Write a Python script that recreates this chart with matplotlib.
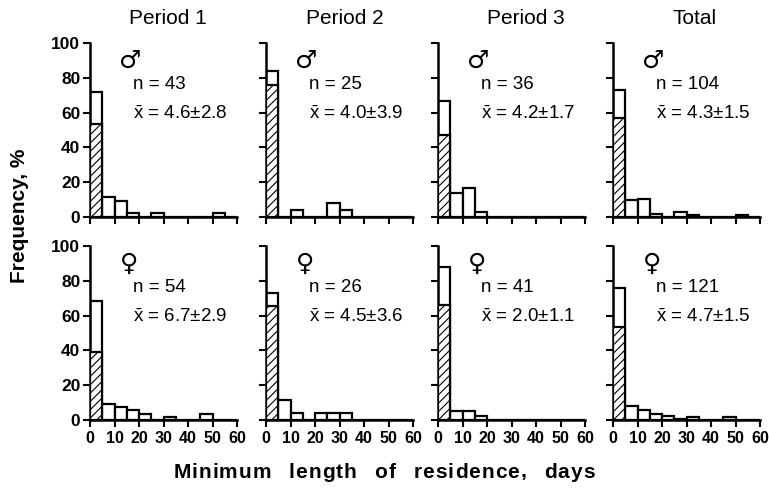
import matplotlib
matplotlib.use("Agg")
from matplotlib import pyplot as plt

plt.rcParams['font.family'] = ['Liberation Sans', 'DejaVu Sans']
plt.rcParams['mathtext.fontset'] = 'custom'
plt.rcParams['mathtext.rm'] = 'Liberation Sans'
plt.rcParams['hatch.linewidth'] = 0.8

# bin left edges (days), 5-day bins
bin_left = [0, 5, 10, 15, 20, 25, 30, 35, 40, 45, 50, 55]

titles = ["Period 1", "Period 2", "Period 3", "Total"]

# frequency, % (open bars)
male_p1 = [72.1, 11.6, 9.3, 2.3, 0, 2.3, 0, 0, 0, 0, 2.3, 0]
male_p2 = [84.0, 0, 4.0, 0, 0, 8.0, 4.0, 0, 0, 0, 0, 0]
male_p3 = [66.7, 13.9, 16.7, 2.8, 0, 0, 0, 0, 0, 0, 0, 0]
male_tot = [73.1, 9.6, 10.6, 1.9, 0, 2.9, 1.0, 0, 0, 0, 1.0, 0]
female_p1 = [68.5, 9.3, 7.4, 5.6, 3.7, 0, 1.9, 0, 0, 3.7, 0, 0]
female_p2 = [73.1, 11.5, 3.8, 0, 3.8, 3.8, 3.8, 0, 0, 0, 0, 0]
female_p3 = [87.8, 4.9, 4.9, 2.4, 0, 0, 0, 0, 0, 0, 0, 0]
female_tot = [76.0, 8.3, 5.8, 3.3, 2.5, 0.8, 1.7, 0, 0, 1.7, 0, 0]

# hatched part of the first bin, %
male_hatch = [53.5, 76.0, 47.2, 56.7]
female_hatch = [38.9, 65.4, 65.9, 53.7]

male_n = ["43", "25", "36", "104"]
male_mean = ["4.6\u00b12.8", "4.0\u00b13.9", "4.2\u00b11.7", "4.3\u00b11.5"]
female_n = ["54", "26", "41", "121"]
female_mean = ["6.7\u00b12.9", "4.5\u00b13.6", "2.0\u00b11.1", "4.7\u00b11.5"]

rows = [
    ([male_p1, male_p2, male_p3, male_tot], male_hatch, male_n, male_mean, "\u2642"),
    ([female_p1, female_p2, female_p3, female_tot], female_hatch, female_n, female_mean, "\u2640"),
]

W, H = 769, 496
fig = plt.figure(figsize=(W / 100, H / 100), dpi=100)

col_left = [90, 266, 438, 613]
row_top = [43, 246]
aw, ah = 147, 174

for r, (series, hatch, ns, means, sym) in enumerate(rows):
    for c in range(4):
        ax = fig.add_axes([col_left[c] / W, (H - row_top[r] - ah) / H, aw / W, ah / H])
        vals = series[c]
        ax.bar(bin_left, vals, width=5, align='edge', facecolor='white',
               edgecolor='black', linewidth=1.6, zorder=2)
        ax.bar([bin_left[0]], [hatch[c]], width=5, align='edge', facecolor='white',
               edgecolor='black', linewidth=1.6, hatch='////', zorder=3)
        ax.set_xlim(0, 60)
        ax.set_ylim(0, 100)
        for s in ['top', 'right']:
            ax.spines[s].set_visible(False)
        for s in ['left', 'bottom']:
            ax.spines[s].set_linewidth(1.8)
        ax.set_xticks(range(0, 61, 10))
        ax.set_yticks(range(0, 101, 20))
        ax.tick_params(length=5, width=1.5, direction='out', pad=2)
        if r == 1:
            ax.set_xticklabels([str(v) for v in range(0, 61, 10)], fontsize=11.5,
                               fontweight='bold')
            ax.tick_params(axis='x', pad=3)
        else:
            ax.set_xticklabels([])
        if c == 0:
            ax.set_yticklabels([str(v) for v in range(0, 101, 20)], fontsize=12.5,
                               fontweight='bold')
        else:
            ax.set_yticklabels([])
        ax.text(12.0, 90, sym, fontsize=18, fontweight='bold', family=['DejaVu Sans'],
                ha='left', va='center')
        ax.text(17.5, 76, "n = " + ns[c], fontsize=13.5, ha='left', va='center')
        ax.text(17.5, 59, r"$\bar{\mathrm{x}}$ = " + means[c], fontsize=13.5,
                ha='left', va='center')

title_x = [168, 345, 526, 695]
for t, x in zip(titles, title_x):
    fig.text(x / W, 1 - 19 / H, t, fontsize=15, ha='center', va='center')

fig.text(20 / W, 1 - 216 / H, "Frequency, %", rotation=90, fontsize=15,
         fontweight='bold', ha='center', va='center')

# x label with uniform letter spacing and wide word gaps
xlabel = "Minimum length of residence, days"
letter_gap, word_gap, xlabel_center = 1.0, 16.0, 384
renderer = fig.canvas.get_renderer()
widths = []
for ch in xlabel:
    if ch == " ":
        widths.append(word_gap)
        continue
    t = fig.text(0, 0, ch, fontsize=15, fontweight='bold')
    widths.append(t.get_window_extent(renderer).width)
    t.remove()
total = sum(widths) + letter_gap * (len(xlabel) - 1)
x = xlabel_center - total / 2
for ch, cw in zip(xlabel, widths):
    if ch != " ":
        fig.text(x / W, 1 - 472 / H, ch, fontsize=15, fontweight='bold',
                 ha='left', va='center')
    x += cw + letter_gap

fig.savefig("out.png", dpi=100)
